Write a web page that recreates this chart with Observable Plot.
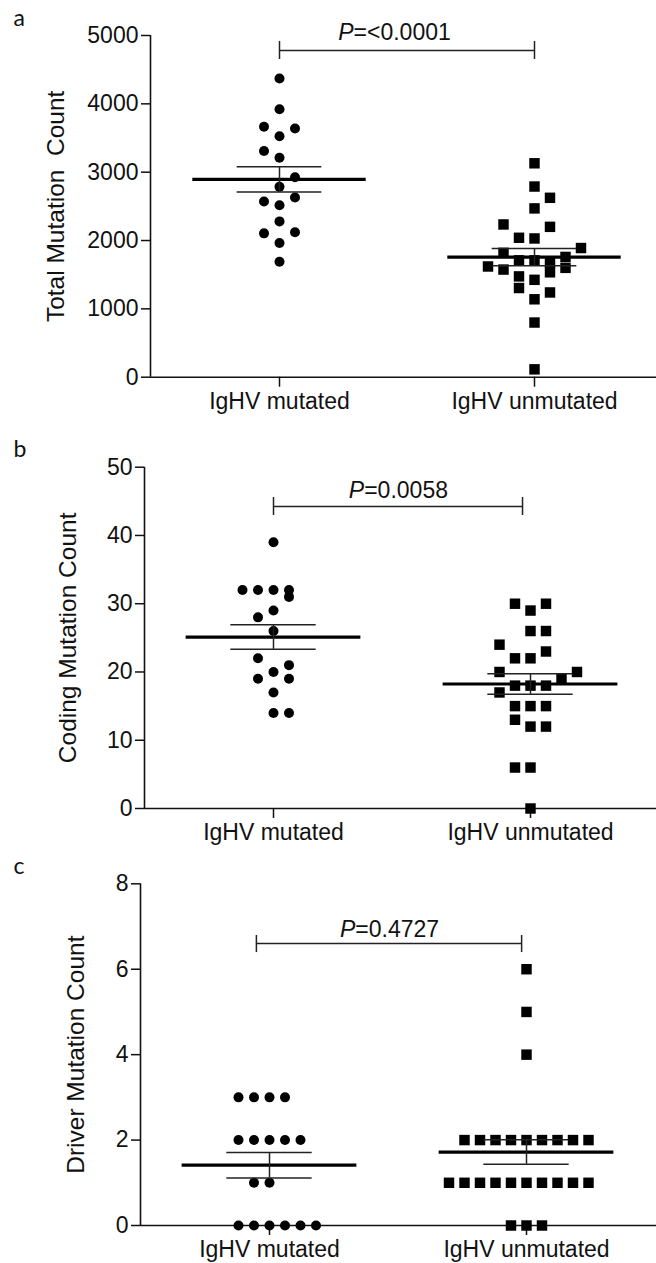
<!DOCTYPE html>
<html>
<head>
<meta charset="utf-8">
<script src="https://cdn.jsdelivr.net/npm/d3@7"></script>
<script src="https://cdn.jsdelivr.net/npm/@observablehq/plot@0.6"></script>
<style>
  body { margin: 0; background: #fff; }
  #chart svg { display: block; }
</style>
</head>
<body>
<div id="chart"></div>
<script>
// ---------- categories ----------
const groups = ["IgHV mutated", "IgHV unmutated"];

// ---------- panel a: total mutation count ----------
const totalMutated     = [4370, 3920, 3665, 3640, 3525, 3310, 3210, 2925, 2785, 2630, 2570, 2515, 2280, 2120, 2105, 1965, 1690];
const totalMutatedCol  = [0, 0, -1, 1, 0, -1, 0, 1, 0, 1, -1, 0, 0, 1, -1, 0, 0];
const totalUnmutated   = [3130, 2790, 2625, 2470, 2235, 2200, 2040, 2030, 1890, 1820, 1760, 1710, 1710, 1680, 1620, 1600, 1575, 1535, 1475, 1425, 1305, 1240, 1140, 800, 115];
const totalUnmutatedCol= [0, 0, 1, 0, -2, 1, -1, 0, 3, -2, 2, -1, 0, 1, -3, 2, -2, 1, -1, 0, -1, 1, 0, 0, 0];
const totalTicks = [0, 1000, 2000, 3000, 4000, 5000];

// ---------- panel b: coding mutation count ----------
const codingMutated      = [39, 32, 32, 32, 32, 31, 29, 28, 26, 22, 21, 20, 19, 19, 17, 14, 14];
const codingMutatedCol   = [0, -2, -1, 0, 1, 1, 0, -1, 0, -1, 1, 0, -1, 1, 0, 0, 1];
const codingUnmutated    = [30, 30, 29, 26, 26, 24, 23, 22, 22, 20, 20, 19, 18, 18, 18, 17, 15, 15, 15, 13, 12, 12, 6, 6, 0];
const codingUnmutatedCol = [-1, 1, 0, 0, 1, -2, 1, -1, 0, -2, 3, 2, -1, 0, 1, -2, -1, 0, 1, -1, 0, 1, -1, 0, 0];
const codingTicks = [0, 10, 20, 30, 40, 50];

// ---------- panel c: driver mutation count ----------
const driverMutated      = [3, 3, 3, 3, 2, 2, 2, 2, 2, 1, 1, 0, 0, 0, 0, 0, 0];
const driverMutatedCol   = [-2, -1, 0, 1, -2, -1, 0, 1, 2, -1, 0, -2, -1, 0, 1, 2, 3];
const driverUnmutated    = [6, 5, 4, 2, 2, 2, 2, 2, 2, 2, 2, 2, 1, 1, 1, 1, 1, 1, 1, 1, 1, 1, 0, 0, 0];
const driverUnmutatedCol = [0, 0, 0, -4, -3, -2, -1, 0, 1, 2, 3, 4, -5, -4, -3, -2, -1, 0, 1, 2, 3, 4, -1, 0, 1];
const driverTicks = [0, 2, 4, 6, 8];

// ---------- annotations ----------
const panelLetters = ["a", "b", "c"];
const yTitles = ["Total Mutation  Count", "Coding Mutation Count", "Driver Mutation Count"];
const pValues = ["=<0.0001", "=0.0058", "=0.4727"];

// ---------- layout per panel ----------
const layouts = [
  {height: 430, mt: 35,   mb: 53.3, left: 150, cat0: 279, unit: 255, yMax: 5000, ticks: totalTicks,
   titleX: 56, br: {x1: 0, x2: 1, y: 4781, t1: 4913, t2: 4649, ty: 4927, tx: 0.451},
   mV: totalMutated, mC: totalMutatedCol, uV: totalUnmutated, uC: totalUnmutatedCol},
  {height: 420, mt: 36.7, mb: 42,   left: 144, cat0: 273, unit: 257, yMax: 50, ticks: codingTicks,
   titleX: 68, br: {x1: 0, x2: 0.969, y: 44.24, t1: 45.56, t2: 42.92, ty: 45.56, tx: 0.486},
   mV: codingMutated, mC: codingMutatedCol, uV: codingUnmutated, uC: codingUnmutatedCol},
  {height: 413, mt: 33.3, mb: 38,   left: 140, cat0: 269, unit: 257, yMax: 8, ticks: driverTicks,
   titleX: 76, br: {x1: -0.051, x2: 0.981, y: 6.60, t1: 6.79, t2: 6.39, ty: 6.76, tx: 0.467},
   mV: driverMutated, mC: driverMutatedCol, uV: driverUnmutated, uC: driverUnmutatedCol}
];

const W = 656;
const ink = "#111";

function panel(i) {
  const L = layouts[i];
  const x0 = -(L.cat0 - L.left) / L.unit;
  const x1 = x0 + (W - L.left) / L.unit;
  const step = 15.5 / L.unit;
  const circles = L.mV.map((v, k) => ({g: 0, v, x: L.mC[k] * step}));
  const squares = L.uV.map((v, k) => ({g: 1, v, x: 1 + L.uC[k] * step}));
  const stats = [circles, squares].map((arr, g) => {
    const vs = arr.map(d => d.v);
    const m = d3.mean(vs);
    const se = d3.deviation(vs) / Math.sqrt(vs.length);
    return {g, m, lo: m - se, hi: m + se};
  });
  const br = L.br;
  return Plot.plot({
    width: W, height: L.height,
    marginLeft: L.left, marginRight: 0, marginTop: L.mt, marginBottom: L.mb,
    style: {fontFamily: "'Liberation Sans', Arial, Helvetica, sans-serif", fontSize: "23px", color: ink, background: "white", overflow: "visible"},
    x: {domain: [x0, x1], axis: null},
    y: {domain: [0, L.yMax], axis: null},
    marks: [
      Plot.axisY({ticks: L.ticks, tickSize: 9, tickPadding: 3, strokeWidth: 1.5, label: null, tickFormat: d => String(d)}),
      Plot.axisX({ticks: [0, 1], tickFormat: k => groups[k], tickSize: 10, tickPadding: 5, strokeWidth: 1.5, label: null}),
      Plot.ruleY([0], {stroke: ink, strokeWidth: 1.6}),
      Plot.ruleX([x0], {x: d => d, y1: 0, y2: L.yMax, stroke: ink, strokeWidth: 1.6}),
      Plot.dot(circles, {x: "x", y: "v", r: 5, fill: "black", stroke: null}),
      Plot.dot(squares, {x: "x", y: "v", r: 5.9, symbol: "square", fill: "black", stroke: null}),
      Plot.ruleY(stats, {y: "m", x1: d => d.g - 0.34, x2: d => d.g + 0.34, stroke: "black", strokeWidth: 3.2}),
      Plot.ruleY(stats, {y: "hi", x1: d => d.g - 0.166, x2: d => d.g + 0.166, stroke: "#222", strokeWidth: 1.5}),
      Plot.ruleY(stats, {y: "lo", x1: d => d.g - 0.166, x2: d => d.g + 0.166, stroke: "#222", strokeWidth: 1.5}),
      Plot.ruleX(stats, {x: "g", y1: "lo", y2: "hi", stroke: "#222", strokeWidth: 1.5}),
      Plot.ruleY([br], {y: "y", x1: "x1", x2: "x2", stroke: "#222", strokeWidth: 1.5}),
      Plot.ruleX([br.x1, br.x2], {x: d => d, y1: br.t1, y2: br.t2, stroke: "#222", strokeWidth: 1.5}),
      Plot.text(["P" + pValues[i]], {x: br.tx, y: br.ty, text: d => d, lineAnchor: "bottom", textAnchor: "middle", fill: ink, fontSize: 23}),
      Plot.text([yTitles[i]], {frameAnchor: "left", text: d => d, rotate: -90, dx: L.titleX - L.left, lineAnchor: "middle", textAnchor: "middle", fill: ink, fontSize: 24.5}),
      Plot.text([panelLetters[i]], {frameAnchor: "top-left", text: d => d, dx: 13 - L.left, dy: -10, lineAnchor: "bottom", textAnchor: "start", fill: ink, fontSize: 23, fontFamily: "Lato, 'Open Sans', sans-serif"})
    ]
  });
}

const root = document.getElementById("chart");
for (let i = 0; i < 3; i++) {
  const svg = panel(i);
  // italic P in the p-value label
  svg.querySelectorAll("text").forEach(t => {
    if (t.textContent === "P" + pValues[i]) {
      const target = t.querySelector("tspan") || t;
      target.textContent = "";
      const ns = "http://www.w3.org/2000/svg";
      const a = document.createElementNS(ns, "tspan");
      a.setAttribute("font-style", "italic");
      a.textContent = "P";
      const b = document.createElementNS(ns, "tspan");
      b.textContent = pValues[i];
      target.appendChild(a);
      target.appendChild(b);
    }
  });
  root.appendChild(svg);
}
</script>
</body>
</html>
